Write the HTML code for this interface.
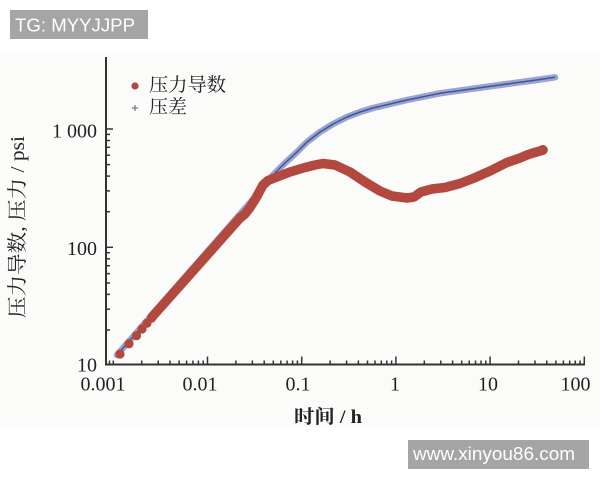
<!DOCTYPE html>
<html><head><meta charset="utf-8"><style>
html,body{margin:0;padding:0;background:#fff;width:600px;height:480px;overflow:hidden}
svg{display:block}
</style></head><body>
<svg width="600" height="480" viewBox="0 0 600 480" xmlns="http://www.w3.org/2000/svg">
<rect x="0" y="0" width="600" height="480" fill="#ffffff"/>
<rect x="0" y="52" width="600" height="375" fill="#fbfbfa"/>

<rect x="10" y="10" width="138" height="29" fill="#a5a5a5"/>
<text x="15" y="31.5" font-family="Liberation Sans, sans-serif" font-size="18.5" fill="#ffffff" textLength="120" lengthAdjust="spacingAndGlyphs">TG: MYYJJPP</text>
<rect x="408" y="440" width="181" height="29" fill="#a5a5a5"/>
<text x="413" y="460" font-family="Liberation Sans, sans-serif" font-size="18.5" fill="#ffffff" textLength="162" lengthAdjust="spacingAndGlyphs">www.xinyou86.com</text>

<g stroke="#333" stroke-width="2" fill="none">
<line x1="106" y1="57" x2="106" y2="365.5"/>
<line x1="105" y1="364.5" x2="585" y2="364.5"/>
</g>
<g stroke="#333" stroke-width="1.5">
<line x1="106" y1="129" x2="113" y2="129"/>
<line x1="106" y1="247.3" x2="113" y2="247.3"/>
<line x1="106" y1="134.4" x2="110" y2="134.4"/>
<line x1="106" y1="140.5" x2="110" y2="140.5"/>
<line x1="106" y1="147.3" x2="110" y2="147.3"/>
<line x1="106" y1="155.2" x2="110" y2="155.2"/>
<line x1="106" y1="164.6" x2="110" y2="164.6"/>
<line x1="106" y1="176.1" x2="110" y2="176.1"/>
<line x1="106" y1="190.9" x2="110" y2="190.9"/>
<line x1="106" y1="211.7" x2="110" y2="211.7"/>
<line x1="106" y1="252.7" x2="110" y2="252.7"/>
<line x1="106" y1="258.8" x2="110" y2="258.8"/>
<line x1="106" y1="265.7" x2="110" y2="265.7"/>
<line x1="106" y1="273.6" x2="110" y2="273.6"/>
<line x1="106" y1="283.0" x2="110" y2="283.0"/>
<line x1="106" y1="294.4" x2="110" y2="294.4"/>
<line x1="106" y1="309.2" x2="110" y2="309.2"/>
<line x1="106" y1="330.0" x2="110" y2="330.0"/>
</g>
<g stroke="#333" stroke-width="1.5">
<line x1="207.5" y1="364.5" x2="207.5" y2="356.5"/>
<line x1="301.7" y1="364.5" x2="301.7" y2="356.5"/>
<line x1="395.9" y1="364.5" x2="395.9" y2="356.5"/>
<line x1="490.1" y1="364.5" x2="490.1" y2="356.5"/>
<line x1="584.3" y1="364.5" x2="584.3" y2="356.5"/>
<line x1="109.5" y1="364.5" x2="109.5" y2="360.5"/>
<line x1="113.3" y1="364.5" x2="113.3" y2="360.5"/>
<line x1="141.7" y1="364.5" x2="141.7" y2="360.5"/>
<line x1="158.2" y1="364.5" x2="158.2" y2="360.5"/>
<line x1="170.0" y1="364.5" x2="170.0" y2="360.5"/>
<line x1="179.1" y1="364.5" x2="179.1" y2="360.5"/>
<line x1="186.6" y1="364.5" x2="186.6" y2="360.5"/>
<line x1="192.9" y1="364.5" x2="192.9" y2="360.5"/>
<line x1="198.4" y1="364.5" x2="198.4" y2="360.5"/>
<line x1="203.2" y1="364.5" x2="203.2" y2="360.5"/>
<line x1="235.9" y1="364.5" x2="235.9" y2="360.5"/>
<line x1="252.4" y1="364.5" x2="252.4" y2="360.5"/>
<line x1="264.2" y1="364.5" x2="264.2" y2="360.5"/>
<line x1="273.3" y1="364.5" x2="273.3" y2="360.5"/>
<line x1="280.8" y1="364.5" x2="280.8" y2="360.5"/>
<line x1="287.1" y1="364.5" x2="287.1" y2="360.5"/>
<line x1="292.6" y1="364.5" x2="292.6" y2="360.5"/>
<line x1="297.4" y1="364.5" x2="297.4" y2="360.5"/>
<line x1="330.1" y1="364.5" x2="330.1" y2="360.5"/>
<line x1="346.6" y1="364.5" x2="346.6" y2="360.5"/>
<line x1="358.4" y1="364.5" x2="358.4" y2="360.5"/>
<line x1="367.5" y1="364.5" x2="367.5" y2="360.5"/>
<line x1="375.0" y1="364.5" x2="375.0" y2="360.5"/>
<line x1="381.3" y1="364.5" x2="381.3" y2="360.5"/>
<line x1="386.8" y1="364.5" x2="386.8" y2="360.5"/>
<line x1="391.6" y1="364.5" x2="391.6" y2="360.5"/>
<line x1="424.3" y1="364.5" x2="424.3" y2="360.5"/>
<line x1="440.8" y1="364.5" x2="440.8" y2="360.5"/>
<line x1="452.6" y1="364.5" x2="452.6" y2="360.5"/>
<line x1="461.7" y1="364.5" x2="461.7" y2="360.5"/>
<line x1="469.2" y1="364.5" x2="469.2" y2="360.5"/>
<line x1="475.5" y1="364.5" x2="475.5" y2="360.5"/>
<line x1="481.0" y1="364.5" x2="481.0" y2="360.5"/>
<line x1="485.8" y1="364.5" x2="485.8" y2="360.5"/>
<line x1="518.5" y1="364.5" x2="518.5" y2="360.5"/>
<line x1="535.0" y1="364.5" x2="535.0" y2="360.5"/>
<line x1="546.8" y1="364.5" x2="546.8" y2="360.5"/>
<line x1="555.9" y1="364.5" x2="555.9" y2="360.5"/>
<line x1="563.4" y1="364.5" x2="563.4" y2="360.5"/>
<line x1="569.7" y1="364.5" x2="569.7" y2="360.5"/>
<line x1="575.2" y1="364.5" x2="575.2" y2="360.5"/>
<line x1="580.0" y1="364.5" x2="580.0" y2="360.5"/>
</g>

<g font-family="Liberation Serif, serif" font-size="20" fill="#222">
<text x="97" y="137.5" text-anchor="end">1 000</text>
<text x="97" y="255" text-anchor="end">100</text>
<text x="97" y="371.5" text-anchor="end">10</text>
<text x="103" y="390.5" text-anchor="middle">0.001</text>
<text x="200" y="390.5" text-anchor="middle">0.01</text>
<text x="298" y="390.5" text-anchor="middle">0.1</text>
<text x="395" y="390.5" text-anchor="middle">1</text>
<text x="488" y="390.5" text-anchor="middle">10</text>
<text x="575.5" y="390.5" text-anchor="middle">100</text>
</g>

<text x="294" y="423" font-family="Liberation Serif, 'Noto Serif CJK SC', serif" font-size="19" font-weight="bold" fill="#222" textLength="68" lengthAdjust="spacingAndGlyphs">时间 / h</text>
<text transform="translate(24,227) rotate(-90)" text-anchor="middle" font-family="Liberation Serif, 'Noto Serif CJK SC', serif" font-size="20" fill="#222" textLength="182" lengthAdjust="spacingAndGlyphs">压力导数, 压力 / psi</text>

<circle cx="135" cy="86" r="3.6" fill="#b3483f"/>
<text x="149" y="91" font-family="'Noto Serif CJK SC', serif" font-size="19" fill="#222" textLength="77" lengthAdjust="spacingAndGlyphs">压力导数</text>
<g stroke="#6a7390" stroke-width="1.2"><line x1="132" y1="108" x2="138" y2="108"/><line x1="135" y1="105" x2="135" y2="111"/></g>
<text x="149" y="113" font-family="'Noto Serif CJK SC', serif" font-size="19" fill="#222" textLength="38" lengthAdjust="spacingAndGlyphs">压差</text>

<polyline fill="none" stroke="#9aa5cf" stroke-width="6.5" stroke-linejoin="round" stroke-linecap="round"
 points="117,355 262,189 273,175 285,163 297,152 307,142 320,132 333,124 347,117 360,112 373,108 390,104 407,100 440,93.3 473,88.7 507,84 540,79.5 555,77.3"/>
<polyline fill="none" stroke="#41539a" stroke-width="1.5" stroke-linejoin="round"
 points="117,355 262,189 273,175 285,163 297,152 307,142 320,132 333,124 347,117 360,112 373,108 390,104 407,100 440,93.3 473,88.7 507,84 540,79.5 555,77.3"/>

<g fill="#b3483f">
<circle cx="120" cy="354" r="4.6"/>
<circle cx="129" cy="343.7" r="4.6"/>
<circle cx="136.5" cy="335.7" r="4.6"/>
<circle cx="142" cy="329" r="4.6"/>
<circle cx="147" cy="323.3" r="4.6"/>
<circle cx="151.5" cy="318.2" r="4.6"/>
<circle cx="542.7" cy="150" r="5"/>
</g>
<polyline fill="none" stroke="#b3483f" stroke-width="9.5" stroke-linejoin="round" stroke-linecap="round"
 points="152,317 240,218 245,214 250,207.5 256,198 260,190.5 263,185 268,180.5 277,177 290,172 305,167.5 315,165 323,163.5 335,165 350,172 365,182 380,191 392,196 407,198 414,197 421,192 432,189 445,187.5 460,183.5 473,178.5 490,171 507,162.5 520,158 527,155 533,153 540,151 543,150"/>
</svg>
</body></html>
